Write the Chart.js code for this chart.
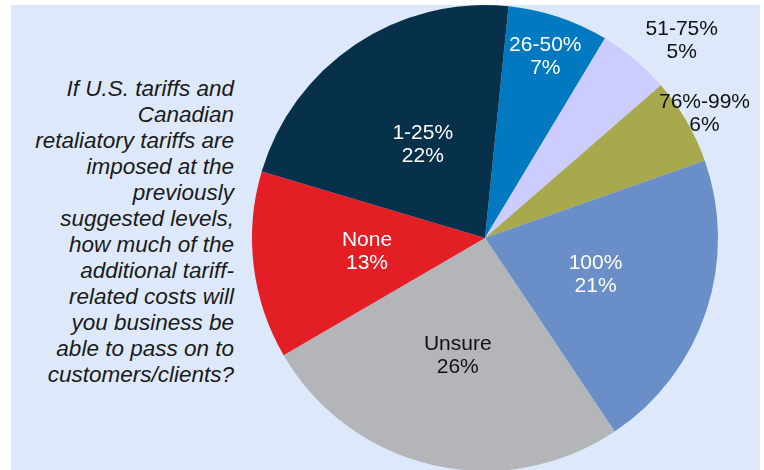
<!DOCTYPE html>
<html>
<head>
<meta charset="utf-8">
<script src="https://cdn.jsdelivr.net/npm/chart.js@4.4.1/dist/chart.umd.min.js"></script>
<style>
  html, body { margin: 0; padding: 0; background: #ffffff; overflow: hidden; width: 764px; height: 470px; }
  #bg { position: absolute; left: 11px; top: 5px; width: 749px; height: 465px; background: #DDE9FB; }
  #q { position: absolute; left: 10px; top: 76px; width: 224px; text-align: right;
       font-family: "Liberation Sans", Arial, sans-serif; font-style: italic; font-size: 22.5px;
       line-height: 26px; color: #1a1a1a; white-space: nowrap; }
  #c { position: absolute; left: 0; top: 0; }
</style>
</head>
<body>
<div id="bg"></div>
<div id="q">If U.S. tariffs and<br>Canadian<br>retaliatory tariffs are<br>imposed at the<br>previously<br>suggested levels,<br>how much of the<br>additional tariff-<br>related costs will<br>you business be<br>able to pass on to<br>customers/clients?</div>
<canvas id="c" width="764" height="480"></canvas>
<script>
const categories = ["26-50%", "51-75%", "76%-99%", "100%", "Unsure", "None", "1-25%"];
const shares = [7, 5, 6, 21, 26, 13, 22];
const pctLabels = ["7%", "5%", "6%", "21%", "26%", "13%", "22%"];

const sliceColors = ["#0079C1", "#CCCCFF", "#A8A84C", "#6A8FC8", "#B4B5B9", "#E31E25", "#07304B"];
const textColors = ["#ffffff", "#111111", "#111111", "#ffffff", "#111111", "#ffffff", "#ffffff"];
// radial position factor (fraction of radius) and pixel nudges per label
const labelRadius = [0.82, 1.2, 1.08, 0.5, 0.52, 0.51, 0.48];
const labelNudge = [[0, 0], [17, 17], [2, 2], [0, 0], [0, 0], [0, 0], [0, 0]];

const labelPlugin = {
  id: 'sliceLabels',
  afterDatasetsDraw(chart) {
    const ctx = chart.ctx;
    const meta = chart.getDatasetMeta(0);
    ctx.save();
    ctx.font = '21px "Liberation Sans", Arial, sans-serif';
    ctx.textAlign = 'center';
    ctx.textBaseline = 'middle';
    meta.data.forEach((arc, i) => {
      const p = arc.getProps(['x', 'y', 'startAngle', 'endAngle', 'outerRadius'], true);
      const mid = (p.startAngle + p.endAngle) / 2;
      const r = p.outerRadius * labelRadius[i];
      const x = p.x + Math.cos(mid) * r + labelNudge[i][0];
      const y = p.y + Math.sin(mid) * r + labelNudge[i][1];
      ctx.fillStyle = textColors[i];
      ctx.fillText(categories[i], x, y - 11.5);
      ctx.fillText(pctLabels[i], x, y + 11.5);
    });
    ctx.restore();
  }
};

new Chart(document.getElementById('c'), {
  type: 'pie',
  data: {
    labels: categories,
    datasets: [{
      data: shares,
      backgroundColor: sliceColors,
      borderWidth: 0
    }]
  },
  options: {
    responsive: false,
    animation: false,
    rotation: 5.8,
    layout: { padding: { left: 252, right: 46, top: 5, bottom: 9 } },
    plugins: {
      legend: { display: false },
      tooltip: { enabled: false }
    }
  },
  plugins: [labelPlugin]
});
</script>
</body>
</html>
